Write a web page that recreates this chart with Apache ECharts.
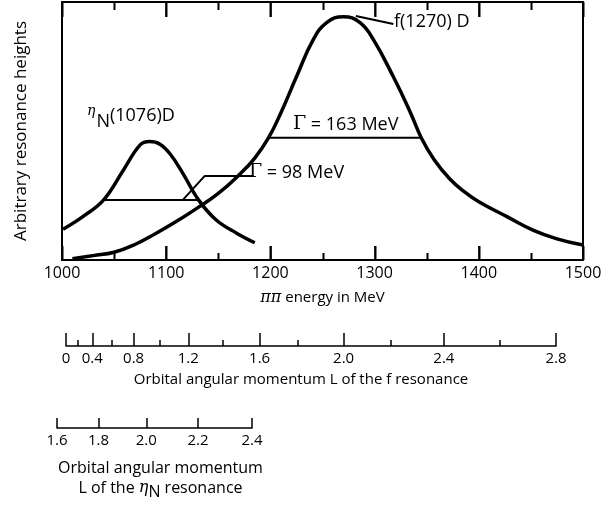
<!DOCTYPE html>
<html><head><meta charset="utf-8">
<script src="https://cdn.jsdelivr.net/npm/echarts@6/dist/echarts.min.js"></script>
<style>html,body{margin:0;padding:0;background:#fff}#c{width:611px;height:508px}</style>
</head><body><div id="c"></div>
<script>
// ---- data ----
const energyTicks = [1000, 1100, 1200, 1300, 1400, 1500];
const energyMinorTicks = [1050, 1150, 1250, 1350, 1450];
const fCurve = [[1010,0.5],[1030,1.7],[1050,3.0],[1070,6.0],[1090,10.3],[1110,15.0],[1130,20.2],[1150,25.8],[1170,33.0],[1185,39.5],[1198,47.2],[1210,57.0],[1225,71],[1241,85.3],[1254,92],[1270,94.3],[1286,92],[1299,85.3],[1318,71],[1334,57.5],[1345,47.2],[1357,39.0],[1372,31.5],[1386,26.5],[1400,22.6],[1427,16.8],[1452,11.6],[1475,8.2],[1500,5.8]];
const etaCurve = [[1001,11.9],[1020,16.8],[1040,23.3],[1059,34.9],[1075,44.6],[1084,45.9],[1094,44.9],[1104,41.0],[1116,33.6],[1131,23.3],[1148,15.5],[1168,10.3],[1185,6.7]];
const fHalfMax = [[1197,47.4],[1345,47.4]];
const etaHalfMax = [[1040,23.3],[1131,23.3]];
const etaLeader = [[1116,23.3],[1137,32.6],[1184,32.6]];
const fArrow = [[1318,91.5],[1282,94.6]];
const fLLabels = ['0','0.4','0.8','1.2','1.6','2.0','2.4','2.8'];
const fLMajorE = [1003.8,1029,1068.7,1121.2,1189.6,1270.2,1366.4,1474];
const fLMinorE = [1015,1047.6,1093.9,1153.8,1226.3,1315.6,1420];
const etaLLabels = ['1.6','1.8','2.0','2.2','2.4'];
const etaLE = [995.2,1035.1,1080.9,1130.5,1182.3];

const FONT = 'Open Sans';
const K = '#000';
const Y_MIN = 0, Y_MAX = 100;
const chart = echarts.init(document.getElementById('c'), null, {renderer:'canvas'});

function tickAxis(grid, min, max, pos, values, labels, len, showLine, showLabels, fontSize) {
  return {
    gridIndex:grid, type:'value', min:min, max:max, position:pos,
    axisLine:{show:showLine, onZero:false, lineStyle:{color:K, width:grid === 0 ? 2 : 1.5}},
    axisTick:{show:true, inside:true, length:len, customValues:values, lineStyle:{color:K, width:1.5}},
    axisLabel:{show:showLabels, customValues:values, margin:5, fontSize:fontSize || 15, color:K, fontFamily:FONT,
      formatter:function(v){ const i = values.indexOf(v); return i>=0 ? labels[i] : ''; }},
    splitLine:{show:false}, minorTick:{show:false}
  };
}
const eMin = energyTicks[0], eMax = energyTicks[energyTicks.length-1];
const energyLabels = energyTicks.map(String);

const xMain = tickAxis(0, eMin, eMax, 'bottom', energyTicks, energyLabels, 14, true, true, 16);
xMain.name = '{i|ππ} energy in MeV';
xMain.nameLocation = 'middle';
xMain.nameGap = 30;
xMain.nameTextStyle = {fontSize:15, color:K, fontFamily:FONT,
  rich:{i:{fontFamily:'DejaVu Serif', fontStyle:'italic', fontSize:16, color:K}}};

const fLMin = fLMajorE[0], fLMax = fLMajorE[fLMajorE.length-1];
const xFL = tickAxis(1, fLMin, fLMax, 'bottom', fLMajorE, fLLabels, 13, true, true);
xFL.name = 'Orbital angular momentum L of the f resonance';
xFL.nameLocation = 'middle'; xFL.nameGap = 26;
xFL.nameTextStyle = {fontSize:15, color:K, fontFamily:FONT, padding:[0,20,0,0]};

const etaMin = etaLE[0], etaMax = etaLE[etaLE.length-1];
const xEta = tickAxis(2, etaMin, etaMax, 'bottom', etaLE, etaLLabels, 10, true, true);
xEta.name = 'Orbital angular momentum\nL of the {e|η}{s|N} resonance';
xEta.nameLocation = 'middle'; xEta.nameGap = 30;
xEta.nameTextStyle = {fontSize:16, color:K, fontFamily:FONT, lineHeight:20, padding:[0,0,0,12],
  rich:{e:{fontFamily:'DejaVu Serif', fontStyle:'italic', fontSize:16, color:K},
        s:{fontSize:16, color:K, fontFamily:FONT, padding:[8,0,0,0]}}};

const lineS = (data, w) => ({type:'line', xAxisIndex:0, yAxisIndex:0, data:data, showSymbol:false, symbol:'none',
  lineStyle:{color:K, width:w}, itemStyle:{color:K}, silent:true});

const fS = lineS(fCurve, 3.5); fS.smooth = 0.45;
fS.markLine = {silent:true, symbol:['none','arrow'], symbolSize:[0,12], label:{show:false},
  lineStyle:{color:K, width:2, type:'solid'}, data:[[{coord:fArrow[0]},{coord:fArrow[1]}]]};
const eS = lineS(etaCurve, 3.5); eS.smooth = 0.4;

const yFrame = (pos, name) => ({gridIndex:0, type:'value', min:Y_MIN, max:Y_MAX, position:pos,
  axisLine:{show:true, onZero:false, lineStyle:{color:K, width:2}},
  axisTick:{show:false}, axisLabel:{show:false}, splitLine:{show:false},
  name:name || '', nameLocation:'middle', nameGap:32, nameRotate:90,
  nameTextStyle:{fontSize:17, color:K, fontFamily:FONT}});

const labelGraphics = [
  {type:'text', left:87, top:104, silent:true, style:{
    text:'{a|η}{n|N}{b|(1076)D}', fill:K,
    rich:{a:{fontFamily:'DejaVu Serif', fontStyle:'italic', fontSize:14, padding:[0,1,10,0], fill:K},
          n:{fontFamily:FONT, fontSize:18, padding:[12,0,0,0], fill:K},
          b:{fontFamily:FONT, fontSize:18, fill:K}}}},
  {type:'text', left:394, top:13, silent:true, style:{text:'f(1270) D', font:'18px "Open Sans"', fill:K}},
  {type:'text', left:293, top:115, silent:true, style:{text:'{g|Γ} = 163 MeV', fill:K,
    rich:{g:{fontFamily:'DejaVu Serif', fontSize:19, fill:K}}, font:'18px "Open Sans"'}},
  {type:'text', left:249, top:163, silent:true, style:{text:'{g|Γ} = 98 MeV', fill:K,
    rich:{g:{fontFamily:'DejaVu Serif', fontSize:19, fill:K}}, font:'18px "Open Sans"'}}
];

const option = {
  animation:false, backgroundColor:'#fff',
  textStyle:{fontFamily:FONT, color:K},
  grid:[
    {left:62, top:2, width:521, height:258},
    {left:66, top:330, width:490, height:16},
    {left:57, top:413, width:195, height:15}
  ],
  xAxis:[
    xMain,
    tickAxis(0, eMin, eMax, 'top', energyTicks, [], 15, true, false),
    xFL,
    tickAxis(1, fLMin, fLMax, 'bottom', fLMinorE, [], 6, false, false),
    xEta
  ],
  yAxis:[
    yFrame('left', 'Arbitrary resonance heights'),
    yFrame('right', ''),
    {gridIndex:1, type:'value', min:0, max:1, show:false},
    {gridIndex:2, type:'value', min:0, max:1, show:false}
  ],
  series:[
    fS, eS,
    lineS(fHalfMax, 2), lineS(etaHalfMax, 2), lineS(etaLeader, 2)
  ],
  graphic:labelGraphics
};
chart.setOption(option);

// frame ticks (top and bottom borders, pointing inward), positioned through the axis scale
const tickGraphics = [];
function addTick(e, len, top) {
  const p = chart.convertToPixel({xAxisIndex:0, yAxisIndex:0}, [e, top ? Y_MAX : Y_MIN]);
  const x = Math.round(p[0]) + 0.5;
  const y0 = p[1];
  const y1 = top ? y0 + len : y0 - len;
  tickGraphics.push({type:'line', silent:true, z:100,
    shape:{x1:x, y1:y0, x2:x, y2:y1}, style:{stroke:K, lineWidth:2}});
}
energyTicks.forEach(e => { addTick(e, 14, false); addTick(e, 15, true); });
energyMinorTicks.forEach(e => { addTick(e, 7, false); addTick(e, 8, true); });
chart.setOption({graphic: labelGraphics.concat(tickGraphics)});
</script>
</body></html>
